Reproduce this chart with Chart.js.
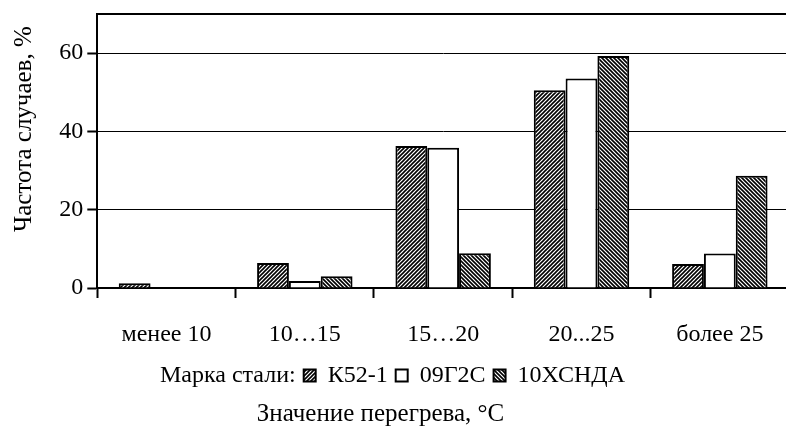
<!DOCTYPE html>
<html>
<head>
<meta charset="utf-8">
<script src="https://cdn.jsdelivr.net/npm/chart.js@4.4.0/dist/chart.umd.min.js"></script>
<style>
  html, body { margin: 0; padding: 0; background: #fff; overflow: hidden; }
  #wrap { width: 790px; height: 432px; }
</style>
</head>
<body>
<div id="wrap"><canvas id="barchart"></canvas></div>
<script>
var categorias = ["менее 10", "10…15", "15…20", "20...25", "более 25"];
var marcas = ["К52-1", "09Г2С", "10ХСНДА"];
var dadosK52 = [1.2, 6.4, 36.3, 50.5, 6.1];
var dados09 = [0, 1.8, 35.8, 53.5, 8.8];
var dados10 = [0, 3.0, 8.9, 59.3, 28.7];
var yTicks = [0, 20, 40, 60];
var yMax = 70;

var familia = "'Liberation Serif', 'Times New Roman', serif";
var fonte = { family: familia, size: 24 };
var fonteTitulo = { family: familia, size: 25, weight: 'normal' };

// hatch pattern: dir 1 = "////", dir -1 = "\\\\"
function hachura(dir) {
    var c = document.createElement('canvas');
    c.width = 4; c.height = 4;
    var g = c.getContext('2d');
    g.fillStyle = '#fff';
    g.fillRect(0, 0, 4, 4);
    g.strokeStyle = '#000';
    g.lineWidth = 1.6;
    g.beginPath();
    if (dir > 0) {
        g.moveTo(-1, 5); g.lineTo(5, -1);
        g.moveTo(-1, 1); g.lineTo(1, -1);
        g.moveTo(3, 5); g.lineTo(5, 3);
    } else {
        g.moveTo(-1, -1); g.lineTo(5, 5);
        g.moveTo(-1, 3); g.lineTo(1, 5);
        g.moveTo(3, -1); g.lineTo(5, 1);
    }
    g.stroke();
    return g.createPattern(c, 'repeat');
}

function barchart() {
    var ctx = document.getElementById('barchart').getContext('2d');
    var chart = new Chart(ctx, {
        type: 'bar',
        data: {
            labels: categorias,
            datasets: [{
                label: marcas[0],
                backgroundColor: hachura(1),
                borderColor: '#000',
                borderWidth: 2,
                data: dadosK52
            }, {
                label: marcas[1],
                backgroundColor: '#fff',
                borderColor: '#000',
                borderWidth: 2,
                data: dados09
            }, {
                label: marcas[2],
                backgroundColor: hachura(-1),
                borderColor: '#000',
                borderWidth: 2,
                data: dados10
            }]
        },
        options: {
            responsive: true,
            maintainAspectRatio: false,
            animation: false,
            categoryPercentage: 0.69,
            barPercentage: 1.0,
            // negative left padding moves the centre of legend/title to the left
            layout: { padding: { left: -28, right: 1, top: 14, bottom: 2.5 } },
            scales: {
                x: {
                    afterFit: function (axis) {
                        axis.height = 67.5;
                        axis.paddingLeft = 0; axis.paddingRight = 0;
                    },
                    grid: { display: true, drawOnChartArea: false, drawTicks: true, tickLength: 10, tickWidth: 2, tickColor: '#000', offset: true },
                    border: { display: true, color: '#000', width: 2 },
                    ticks: { color: '#000', font: fonte, padding: 22, maxRotation: 0 }
                },
                y: {
                    min: 0,
                    max: yMax,
                    afterBuildTicks: function (axis) {
                        axis.ticks = yTicks.concat([yMax]).map(function (v) { return { value: v }; });
                    },
                    afterFit: function (axis) {
                        axis.width = 125.3;
                        axis.paddingTop = 0; axis.paddingBottom = 0;
                    },
                    grid: {
                        color: '#000',
                        lineWidth: function (c) { return c.tick && c.tick.value === yMax ? 2 : 1; },
                        tickColor: function (c) { return c.tick && c.tick.value === yMax ? 'rgba(0,0,0,0)' : '#000'; },
                        tickLength: 10,
                        tickWidth: 2
                    },
                    border: { display: true, color: '#000', width: 2 },
                    ticks: {
                        color: '#000', font: fonte, padding: 4,
                        callback: function (v) { return v === yMax ? '' : v; }
                    },
                    title: {
                        display: true,
                        text: '       Частота случаев, %',
                        color: '#000',
                        font: fonteTitulo,
                        padding: { top: 37, bottom: 0 }
                    }
                }
            },
            plugins: {
                legend: {
                    position: 'bottom',
                    onClick: function () {},
                    labels: {
                        color: '#000', font: fonte, boxWidth: 12, boxHeight: 12, padding: 8,
                        generateLabels: function (chart) {
                            var itens = Chart.defaults.plugins.legend.labels.generateLabels(chart);
                            itens.unshift({ text: 'Марка стали:', fillStyle: 'rgba(0,0,0,0)', strokeStyle: 'rgba(0,0,0,0)', lineWidth: 0, hidden: false, datasetIndex: -1 });
                            return itens;
                        }
                    }
                },
                title: {
                    display: true,
                    position: 'bottom',
                    text: 'Значение перегрева, °C',
                    color: '#000',
                    font: fonteTitulo,
                    padding: { top: 2, bottom: 0 }
                },
                tooltip: { enabled: false }
            }
        }
    });
}

barchart();
</script>
</body>
</html>
